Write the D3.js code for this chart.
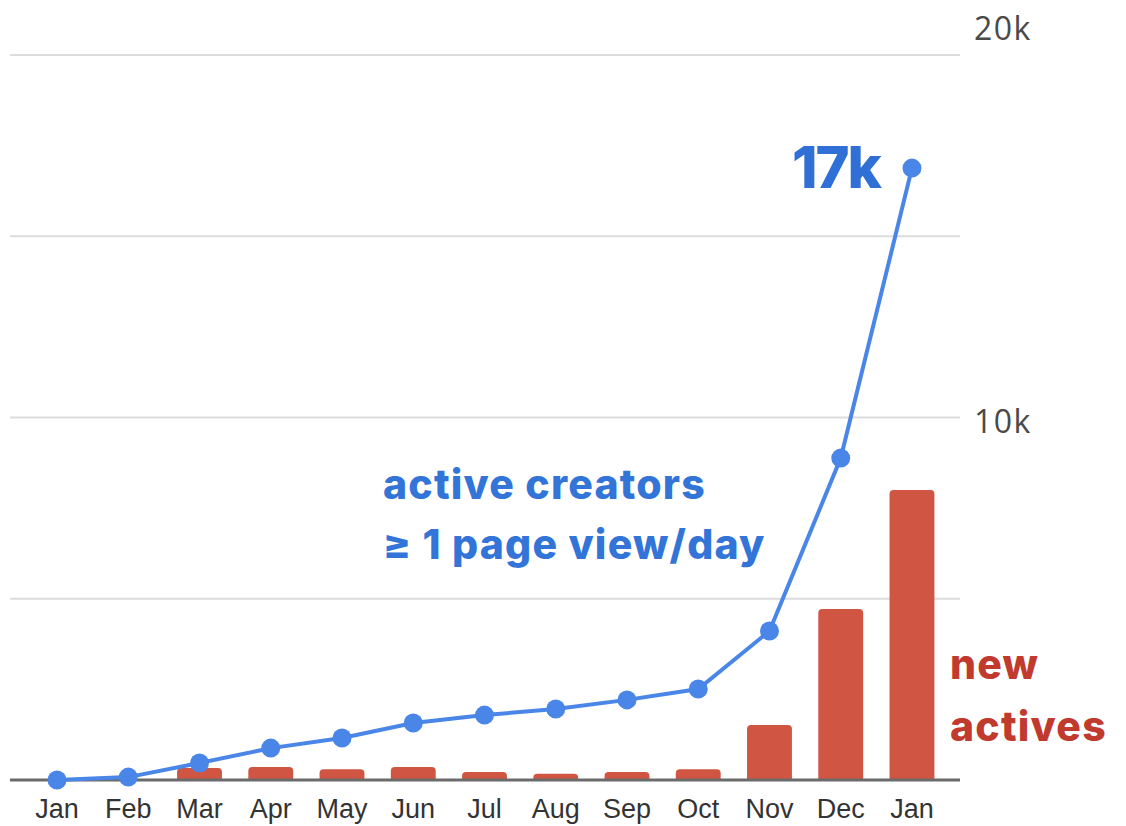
<!DOCTYPE html>
<html lang="en">
<head>
    <meta charset="utf-8"/>
    <style>
        body { margin: 0; background: #fff; }
        svg { display: block; }
        .grid line { stroke: #dcdcdc; stroke-width: 2px; }
        .y-axis text { font-family: "Open Sans", sans-serif; font-weight: 400; font-size: 32px; fill: #4a4a4a; letter-spacing: 1.5px; }
        .x-axis text { font-family: "Liberation Sans", Arial, sans-serif; font-size: 27px; fill: #333; }
        .label { font-family: Inter, "Open Sans", sans-serif; font-weight: 800; }
    </style>
    <script src="https://cdnjs.cloudflare.com/ajax/libs/d3/7.8.5/d3.min.js"></script>
</head>
<body>
<svg id="chart" width="1126" height="826"></svg>
<script>
    var months = ['Jan', 'Feb', 'Mar', 'Apr', 'May', 'Jun', 'Jul', 'Aug', 'Sep', 'Oct', 'Nov', 'Dec', 'Jan'];
    // active creators (>= 1 page view/day)
    var activeCreators = [0, 80, 470, 880, 1160, 1570, 1790, 1960, 2210, 2510, 4110, 8880, 16880];
    // new actives per month
    var newActives = [0, 0, 330, 360, 300, 360, 220, 170, 220, 300, 1520, 4720, 8000];
    var gridTicks = [5000, 10000, 15000, 20000];
    var axisTicks = [10000, 20000];

    var blue = '#4a86e8', red = '#d05542';
    var svg = d3.select('#chart');

    var idx = d3.range(months.length);
    var x = d3.scaleBand()
        .domain(idx)
        .range([21.4, 947.6])
        .paddingInner(0.37)
        .paddingOuter(0.185);
    var cx = function(i) { return x(i) + x.bandwidth() / 2; };

    var y = d3.scaleLinear().domain([0, 20000]).range([780, 55]);

    // gridlines
    svg.append('g').attr('class', 'grid')
        .selectAll('line')
        .data(gridTicks)
        .enter().append('line')
        .attr('x1', 10).attr('x2', 960)
        .attr('y1', function(d) { return y(d); })
        .attr('y2', function(d) { return y(d); });

    // right axis labels (only 10k and 20k); the top one sits above its line
    var yAxis = d3.axisRight(y)
        .tickValues(axisTicks)
        .tickSize(0)
        .tickPadding(0)
        .tickFormat(function(d) { return (d / 1000) + 'k'; });
    var ya = svg.append('g').attr('class', 'y-axis')
        .attr('transform', 'translate(974,0)')
        .call(yAxis);
    ya.select('.domain').remove();
    ya.selectAll('.tick text')
        .attr('dy', function(d) { return d === 20000 ? -16 : 15; });

    // bars with rounded tops
    function barPath(i, v) {
        var x0 = x(i), w = x.bandwidth(), y0 = y(v), b = y(0);
        var r = Math.min(4, (b - y0));
        return 'M' + x0 + ',' + b + 'V' + (y0 + r) +
            'Q' + x0 + ',' + y0 + ' ' + (x0 + r) + ',' + y0 +
            'H' + (x0 + w - r) +
            'Q' + (x0 + w) + ',' + y0 + ' ' + (x0 + w) + ',' + (y0 + r) +
            'V' + b + 'Z';
    }
    svg.append('g').selectAll('path')
        .data(newActives.map(function(v, i) { return {i: i, v: v}; })
            .filter(function(d) { return d.v > 0; }))
        .enter().append('path')
        .attr('d', function(d) { return barPath(d.i, d.v); })
        .attr('fill', red);

    // baseline
    svg.append('line')
        .attr('x1', 10).attr('x2', 960)
        .attr('y1', y(0)).attr('y2', y(0))
        .attr('stroke', '#6b6b6b').attr('stroke-width', 3);

    // line + points
    var line = d3.line()
        .x(function(d, i) { return cx(i); })
        .y(function(d) { return y(d); });
    svg.append('path')
        .datum(activeCreators)
        .attr('d', line)
        .attr('fill', 'none')
        .attr('stroke', blue)
        .attr('stroke-width', 4);
    svg.append('g').selectAll('circle')
        .data(activeCreators)
        .enter().append('circle')
        .attr('cx', function(d, i) { return cx(i); })
        .attr('cy', function(d) { return y(d); })
        .attr('r', 9.5)
        .attr('fill', blue);

    // month labels
    var xAxis = d3.axisBottom(x)
        .tickSize(0)
        .tickPadding(0)
        .tickFormat(function(i) { return months[i]; });
    var xa = svg.append('g').attr('class', 'x-axis')
        .attr('transform', 'translate(0,818)')
        .call(xAxis);
    xa.select('.domain').remove();
    xa.selectAll('.tick text').attr('y', 0).attr('dy', 0);

    // annotations
    svg.append('text').attr('class', 'label')
        .attr('x', 880).attr('y', 188)
        .attr('text-anchor', 'end')
        .attr('font-size', 58)
        .attr('letter-spacing', -2)
        .attr('fill', '#2f6fd6')
        .text('17k');

    var lab = svg.append('text').attr('class', 'label')
        .attr('font-size', 41)
        .attr('letter-spacing', 1.2)
        .attr('fill', '#3274d8');
    lab.append('tspan').attr('x', 383).attr('y', 499).text('active creators');
    lab.append('tspan').attr('x', 383).attr('y', 559).text('\u2265 1 page view/day');

    var lab2 = svg.append('text').attr('class', 'label')
        .attr('font-size', 41)
        .attr('letter-spacing', 1.2)
        .attr('fill', '#c13a2e');
    lab2.append('tspan').attr('x', 950).attr('y', 679).text('new');
    lab2.append('tspan').attr('x', 950).attr('y', 741).text('actives');
</script>
</body>
</html>
